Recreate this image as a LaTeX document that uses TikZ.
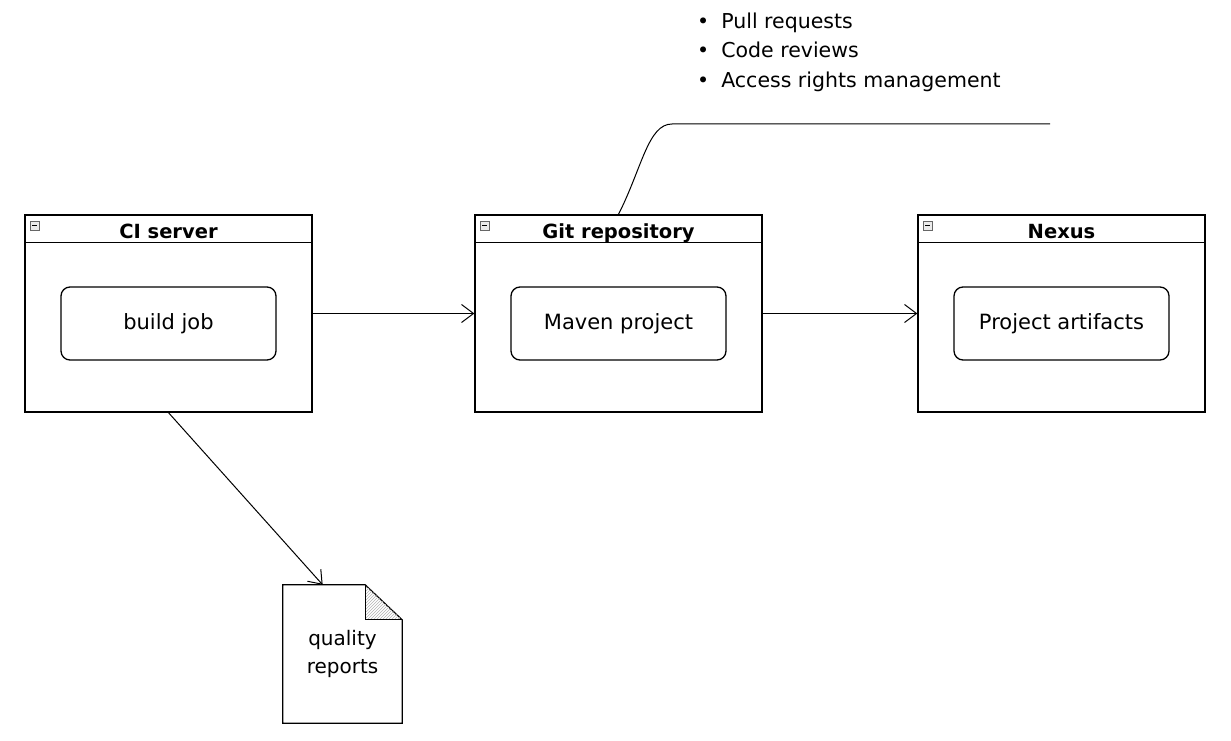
\documentclass[tikz,border=0pt]{standalone}
\usepackage{fontspec}
\setmainfont{DejaVu Sans}
\usetikzlibrary{arrows.meta,patterns,calc}
\newcommand{\bul}{\textbullet\hspace{12pt}}

\begin{document}
\begin{tikzpicture}[x=1pt,y=-1pt]
\path[use as bounding box] (0,0) rectangle (1231,741);
\tikzstyle{container}=[draw=black, line width=1.3pt, minimum width=287pt, minimum height=197pt, inner sep=0pt]
\tikzstyle{title}=[font=\fontsize{19.5}{22}\selectfont\bfseries, inner sep=0pt, anchor=base]
\tikzstyle{job}=[draw=black, line width=1.3pt, rounded corners=9pt, minimum width=215pt, minimum height=73pt, font=\fontsize{21}{24}\selectfont]
\tikzstyle{flow}=[-{Straight Barb[length=12pt,width=18pt]}, line width=1pt]
\tikzstyle{icon}=[draw=black!60, fill=black!8, line width=0.6pt]

\node[container] (ci) at (168.5,313.5) {};
\node[container] (git) at (618.5,313.5) {};
\node[container] (nexus) at (1061.5,313.5) {};

\node[title] (citl) at ($(ci.north)+(0,24)$) {CI server};
\node[title] (gittl) at ($(git.north)+(0,24)$) {Git repository};
\node[title] (nexustl) at ($(nexus.north)+(0,24)$) {Nexus};

% header bars and collapse icons
\foreach \c in {ci,git,nexus} {
  \draw[line width=1.2pt] ($(\c.north west)+(0,28)$) -- ($(\c.north east)+(0,28)$);
  \draw[icon] ($(\c.north west)+(6,7)$) rectangle +(9,9);
  \draw[line width=0.8pt] ($(\c.north west)+(8,11.5)$) -- +(5,0);
}

\node[job] (build) at (168.5,323.5) {build job};
\node[job] (maven) at (618.5,323.5) {Maven project};
\node[job] (artifacts) at (1061.5,323.5) {Project artifacts};

\node[minimum width=119pt, minimum height=138pt, align=center, inner sep=0pt,
  font=\fontsize{20}{28}\selectfont] (doc) at (342.5,654) {quality\\reports};
\draw[line width=1.2pt] (doc.south west) -- (doc.north west) -- ($(doc.north east)+(-37,0)$)
  -- ($(doc.north east)+(0,35)$) -- (doc.south east) -- cycle;
\fill[pattern=north east lines, pattern color=black!30] ($(doc.north east)+(-37,0)$)
  -- ($(doc.north east)+(-37,35)$) -- ($(doc.north east)+(0,35)$) -- cycle;
\draw[line width=1.2pt] ($(doc.north east)+(-37,0)$) -- ($(doc.north east)+(-37,35)$)
  -- ($(doc.north east)+(0,35)$);

\draw[flow] (ci.east) -- (git.west);
\draw[flow] (git.east) -- (nexus.west);
\draw[flow] (ci.south) -- (doc.106);

% note on the repository
\node[anchor=west, align=left, inner sep=0pt, font=\fontsize{20.5}{29.5}\selectfont] (note) at (697,52)
  {\bul Pull requests\\ \bul Code reviews\\ \bul Access rights management};
\coordinate (noteend) at (1050,124);
\draw[line width=1pt] (git.north) .. controls (642,168) and (648,124) .. (672,124) -- (noteend);
\end{tikzpicture}
\end{document}
